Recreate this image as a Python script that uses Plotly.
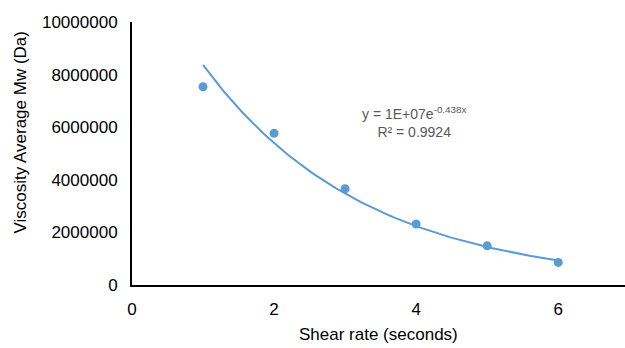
import numpy as np
import plotly.graph_objects as go

shear_rate = [1, 2, 3, 4, 5, 6]
mw = [7540000, 5770000, 3660000, 2320000, 1490000, 860000]

y_ticks = [0, 2000000, 4000000, 6000000, 8000000, 10000000]
y_tick_labels = ["0", "2000000", "4000000", "6000000", "8000000", "10000000"]
x_ticks = [0, 2, 4, 6]
x_tick_labels = ["0", "2", "4", "6"]

# exponential trendline fitted to the data (least squares on ln y)
b, lnA = np.polyfit(shear_rate, np.log(mw), 1)
xf = np.linspace(min(shear_rate), max(shear_rate), 100)
yf = np.exp(lnA) * np.exp(b * xf)

BLUE = "#5B9BD5"
FONT = "Liberation Sans, Arial, sans-serif"

fig = go.Figure()
fig.add_trace(go.Scatter(x=xf, y=yf, mode="lines",
                         line=dict(color=BLUE, width=2), hoverinfo="skip",
                         showlegend=False))
fig.add_trace(go.Scatter(x=shear_rate, y=mw, mode="markers",
                         marker=dict(color=BLUE, size=9), showlegend=False))

fig.update_layout(
    width=625, height=348,
    margin=dict(l=132, r=0, t=22, b=63),
    paper_bgcolor="white", plot_bgcolor="white",
    font=dict(family=FONT, size=17, color="#000000"),
    xaxis=dict(range=[0, 6.94], tickvals=x_ticks, ticktext=x_tick_labels,
               showgrid=False, zeroline=False, showline=True,
               linecolor="black", linewidth=2, ticks="",
               ticklabelstandoff=8),
    yaxis=dict(range=[0, 10000000], tickvals=y_ticks, ticktext=y_tick_labels,
               showgrid=False, zeroline=False, showline=True,
               linecolor="black", linewidth=2, ticks="",
               ticklabelstandoff=9),
    annotations=[
        dict(text="Shear rate (seconds)", xref="paper", yref="paper",
             x=0.5, y=-0.19, yanchor="middle", showarrow=False,
             font=dict(size=17)),
        dict(text="Viscosity Average Mw (Da)", xref="paper", yref="paper",
             x=-0.227, y=0.58, xanchor="center", yanchor="middle",
             showarrow=False, textangle=-90, font=dict(size=17)),
        dict(text="y = 1E+07e<sup>-0.438x</sup><br>R² = 0.9924",
             xref="paper", yref="paper", x=0.571, y=0.62,
             showarrow=False, align="center",
             font=dict(size=14, color="#595959")),
    ],
)

fig.write_html("out.html")
